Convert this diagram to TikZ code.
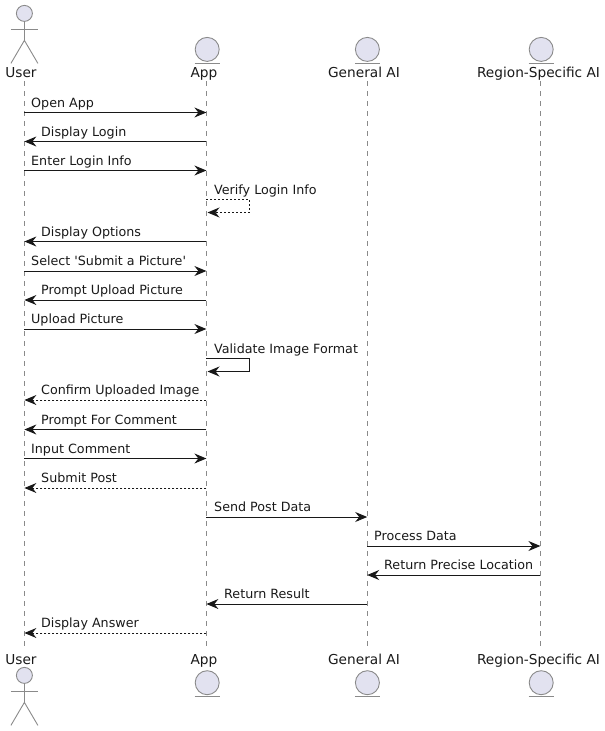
\documentclass[tikz,border=0pt]{standalone}
\usepackage{fontspec}
\setmainfont[Ligatures=TeXOff]{DejaVu Sans}
\usetikzlibrary{arrows.meta}
\definecolor{pfill}{HTML}{E2E2F0}
\definecolor{pline}{HTML}{181818}
\definecolor{lgray}{HTML}{8A8A8A}
\tikzset{
  x=1pt,y=-1pt,
  life/.style={draw=lgray,line width=0.9pt,dash pattern=on 5pt off 5pt},
  part/.style={draw=lgray,line width=0.9pt,fill=pfill},
  limb/.style={draw=lgray,line width=0.9pt},
  ptext/.style={font=\fontsize{13.7}{16}\selectfont,inner sep=0pt,anchor=base,text=black!90},
  mtext/.style={font=\fontsize{12.7}{15}\selectfont,inner sep=0pt,anchor=base west,text=black!90},
  msg/.style={draw=pline,line width=1pt,-{Stealth[length=12pt,width=10pt,inset=4pt,fill=pline]}},
  ret/.style={msg,dash pattern=on 2pt off 2pt},
}
% name, from, to, y, label x, text, style
\newcommand{\msgline}[7]{
  \coordinate (#1s) at (#2 |- 0,#4);
  \coordinate (#1e) at (#3 |- 0,#4);
  \draw[#7] (#1s) -- (#1e);
  \node[mtext] (#1t) at (#5,#4-5.2) {#6};
}
% name, y1, y2, text, style
\newcommand{\selfline}[5]{
  \coordinate (#1s) at (aT |- 0,#2);
  \coordinate (#1c) at (249.5,#2);
  \coordinate (#1d) at (249.5,#3);
  \coordinate (#1e) at (207.5,#3);
  \draw[#5] (#1s) -- (#1c) -- (#1d) -- (#1e);
  \node[mtext] (#1t) at (214,#2-5.2) {#4};
}
% name, x, cy-of-head
\newcommand{\actorfig}[3]{
  \node[part,circle,minimum size=16pt,inner sep=0pt] (#1) at (#2,#3) {};
  \coordinate (#1n) at (#2,#3+8);
  \coordinate (#1h) at (#2,#3+27);
  \draw[limb] (#1n) -- (#1h);
  \draw[limb] (#2-13.5,#3+16) -- (#2+13.5,#3+16);
  \draw[limb] (#2-13.5,#3+50) -- (#1h) -- (#2+13.5,#3+50);
}
\newcommand{\entityfig}[3]{
  \node[part,circle,minimum size=24pt,inner sep=0pt] (#1) at (#2,#3) {};
  \draw[limb] (#2-12.5,#3+13.7) -- (#2+12.5,#3+13.7);
}
\begin{document}
\begin{tikzpicture}
\useasboundingbox (0,0) rectangle (605,731);
% lifelines
\coordinate (uT) at (24.4,81); \coordinate (uB) at (24.4,646);
\coordinate (aT) at (206.4,81); \coordinate (aB) at (206.4,646);
\coordinate (gT) at (367.2,81); \coordinate (gB) at (367.2,646);
\coordinate (rT) at (540.4,81); \coordinate (rB) at (540.4,646);
\draw[life] (uT) -- (uB);
\draw[life] (aT) -- (aB);
\draw[life] (gT) -- (gB);
\draw[life] (rT) -- (rB);
% participants top
\actorfig{uH}{24.4}{13.4}
\entityfig{aH}{207.2}{49.4}
\entityfig{gH}{367.4}{49.4}
\entityfig{rH}{541.2}{49.4}
\node[ptext] (uL) at (21,77.8) {User};
\node[ptext] (aL) at (204,77.8) {App};
\node[ptext] (gL) at (364,77.8) {General AI};
\node[ptext] (rL) at (538.5,77.8) {Region-Specific AI};
% participants bottom
\node[ptext] (uF) at (21,664.8) {User};
\node[ptext] (aF) at (204,664.8) {App};
\node[ptext] (gF) at (364,664.8) {General AI};
\node[ptext] (rF) at (538.5,664.8) {Region-Specific AI};
\actorfig{uG}{24.4}{675.4}
\entityfig{aG}{207.2}{682.7}
\entityfig{gG}{367.4}{682.7}
\entityfig{rG}{541.2}{682.7}
% messages
\msgline{m1}{uT}{aT}{112.5}{31}{Open App}{msg}
\msgline{m2}{aT}{uT}{141.5}{41}{Display Login}{msg}
\msgline{m3}{uT}{aT}{170.5}{31}{Enter Login Info}{msg}
\selfline{m4}{199.5}{212.5}{Verify Login Info}{ret}
\msgline{m5}{aT}{uT}{241.5}{41}{Display Options}{msg}
\msgline{m6}{uT}{aT}{271}{31}{Select 'Submit a Picture'}{msg}
\msgline{m7}{aT}{uT}{300}{41}{Prompt Upload Picture}{msg}
\msgline{m8}{uT}{aT}{329}{31}{Upload Picture}{msg}
\selfline{m9}{358.5}{371.5}{Validate Image Format}{msg}
\msgline{m10}{aT}{uT}{400}{41}{Confirm Uploaded Image}{ret}
\msgline{m11}{aT}{uT}{429.5}{41}{Prompt For Comment}{msg}
\msgline{m12}{uT}{aT}{458.5}{31}{Input Comment}{msg}
\msgline{m13}{aT}{uT}{488}{41}{Submit Post}{ret}
\msgline{m14}{aT}{gT}{517}{214}{Send Post Data}{msg}
\msgline{m15}{gT}{rT}{546}{374}{Process Data}{msg}
\msgline{m16}{rT}{gT}{575}{384}{Return Precise Location}{msg}
\msgline{m17}{gT}{aT}{604}{224}{Return Result}{msg}
\msgline{m18}{aT}{uT}{633}{41}{Display Answer}{ret}
\end{tikzpicture}
\end{document}
